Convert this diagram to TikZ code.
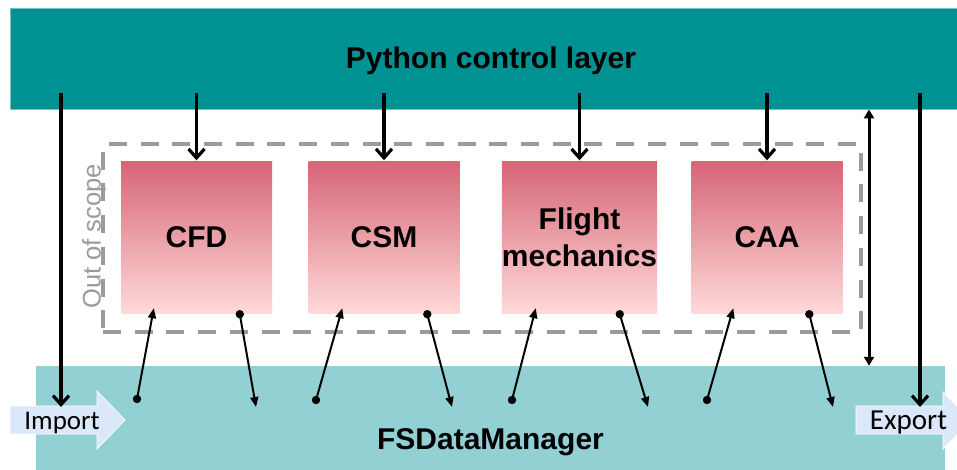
\documentclass[tikz,border=0pt]{standalone}
\usepackage{fontspec}
\setmainfont{Liberation Sans}
\newfontfamily\calfont{Carlito}
\usetikzlibrary{arrows.meta}

\definecolor{ctrlteal}{RGB}{0,145,147}
\definecolor{ctrledge}{RGB}{110,196,198}
\definecolor{dmteal}{RGB}{146,208,212}
\definecolor{modtop}{RGB}{214,102,118}
\definecolor{modbot}{RGB}{255,217,217}
\definecolor{scopegray}{RGB}{155,155,155}
\definecolor{ioblue}{RGB}{218,232,250}

\begin{document}
\begin{tikzpicture}[x=1pt,y=-1pt,
  bigtext/.style={font=\bfseries\fontsize{30}{37}\selectfont},
  bar/.style={bigtext, inner sep=0pt, text height=21pt, text depth=0pt},
  module/.style={bigtext, minimum width=151pt, minimum height=151pt, inner sep=0pt,
    top color=modtop, bottom color=modbot, align=center},
  scopebox/.style={draw=scopegray, line width=3.6pt, dash pattern=on 18pt off 13.7pt,
    minimum width=758pt, minimum height=188pt, inner sep=0pt},
  ctl/.style={line width=3.2pt, -{Straight Barb[length=9pt,width=16pt]}},
  span/.style={line width=3pt,
    {Triangle[length=9pt,width=10pt]}-{Triangle[length=9pt,width=10pt]}},
  feed/.style={line width=2pt, -{Triangle[length=10pt,width=8pt]}},
  dot/.style={fill=black},
  io/.style={fill=ioblue, draw=white, line width=0.8pt},
  iotext/.style={font=\calfont\fontsize{27}{32}\selectfont, inner sep=0pt,
    text height=17.5pt, text depth=0pt},
]
\clip (0,0) rectangle (957,470);
\fill[white] (0,0) rectangle (957,470);

% control layer and data manager bars
\node[bar, fill=ctrlteal, draw=ctrledge, line width=0.8pt,
  minimum width=962pt, minimum height=101pt] (ctrl) at (491,58.5) {Python control layer};
\node[bar, fill=dmteal, minimum width=909pt, minimum height=146pt] (fsdm) at (490.5,439) {FSDataManager};

% out-of-scope frame
\node[scopebox] (scope) at (482,238) {};
\node[rotate=90, text=scopegray, font=\fontsize{25.5}{30}\selectfont, inner sep=0pt]
  (oos) at (94,236.5) {Out of scope};

% solver modules
\node[module] (cfd) at (196.5,237.5) {CFD};
\node[module] (csm) at (384,237.5) {CSM};
\node[module] (fm)  at (579.5,237.5) {Flight\\mechanics};
\node[module] (caa) at (767,237.5) {CAA};

% control arrows into the modules
\foreach \m in {cfd,csm,fm,caa}
  \draw[ctl, shorten >=1.5pt] ([yshift=16pt]\m.north |- ctrl.south) -- (\m.north);

% import / export block arrows
\draw[io] (10,406) -- (97,406) -- (97,391) -- (125,420) -- (97,449) -- (97,434) -- (10,434) -- cycle;
\draw[io] (856,406) -- (943,406) -- (943,392) -- (971,420.5) -- (943,449) -- (943,434) -- (856,434) -- cycle;

\coordinate (importend) at (61,407);
\coordinate (exportend) at (920,407);
\draw[ctl] ([yshift=16pt]importend |- ctrl.south) -- (importend);
\draw[ctl] ([yshift=16pt]exportend |- ctrl.south) -- (exportend);

\node[iotext] (import) at (62,421) {Import};
\node[iotext, font=\calfont\fontsize{29}{34}\selectfont] (export) at (908.5,421) {Export};

% span between the two layers
\coordinate (gap) at (869,0);
\draw[span] (gap |- ctrl.south) -- (gap |- fsdm.north);

% data exchange between modules and FSDataManager
\coordinate (cfdsrc) at (137,399);
\coordinate (cfddst) at (256,407);
\coordinate (csmsrc) at (316,400);
\coordinate (csmdst) at (452,407);
\coordinate (fmsrc)  at (512,400);
\coordinate (fmdst)  at (648,407);
\coordinate (caasrc) at (707,400);
\coordinate (caadst) at (833,407);

\draw[feed] (cfdsrc) -- ([shift={(33,-5)}]cfd.south west);
\draw[feed] ([shift={(119,1)}]cfd.south west) -- (cfddst);
\draw[feed] (csmsrc) -- ([shift={(34,-5)}]csm.south west);
\draw[feed] ([shift={(119,1)}]csm.south west) -- (csmdst);
\draw[feed] (fmsrc) -- ([shift={(34,-5)}]fm.south west);
\draw[feed] ([shift={(118,1)}]fm.south west) -- (fmdst);
\draw[feed] (caasrc) -- ([shift={(42,-5)}]caa.south west);
\draw[feed] ([shift={(118,1)}]caa.south west) -- (caadst);

\foreach \p in {cfdsrc,csmsrc,fmsrc,caasrc}
  \fill[dot] (\p) circle (4.2pt);
\foreach \m/\dx in {cfd/119,csm/119,fm/118,caa/118}
  \fill[dot] ([shift={(\dx,1)}]\m.south west) circle (4.2pt);
\end{tikzpicture}
\end{document}
